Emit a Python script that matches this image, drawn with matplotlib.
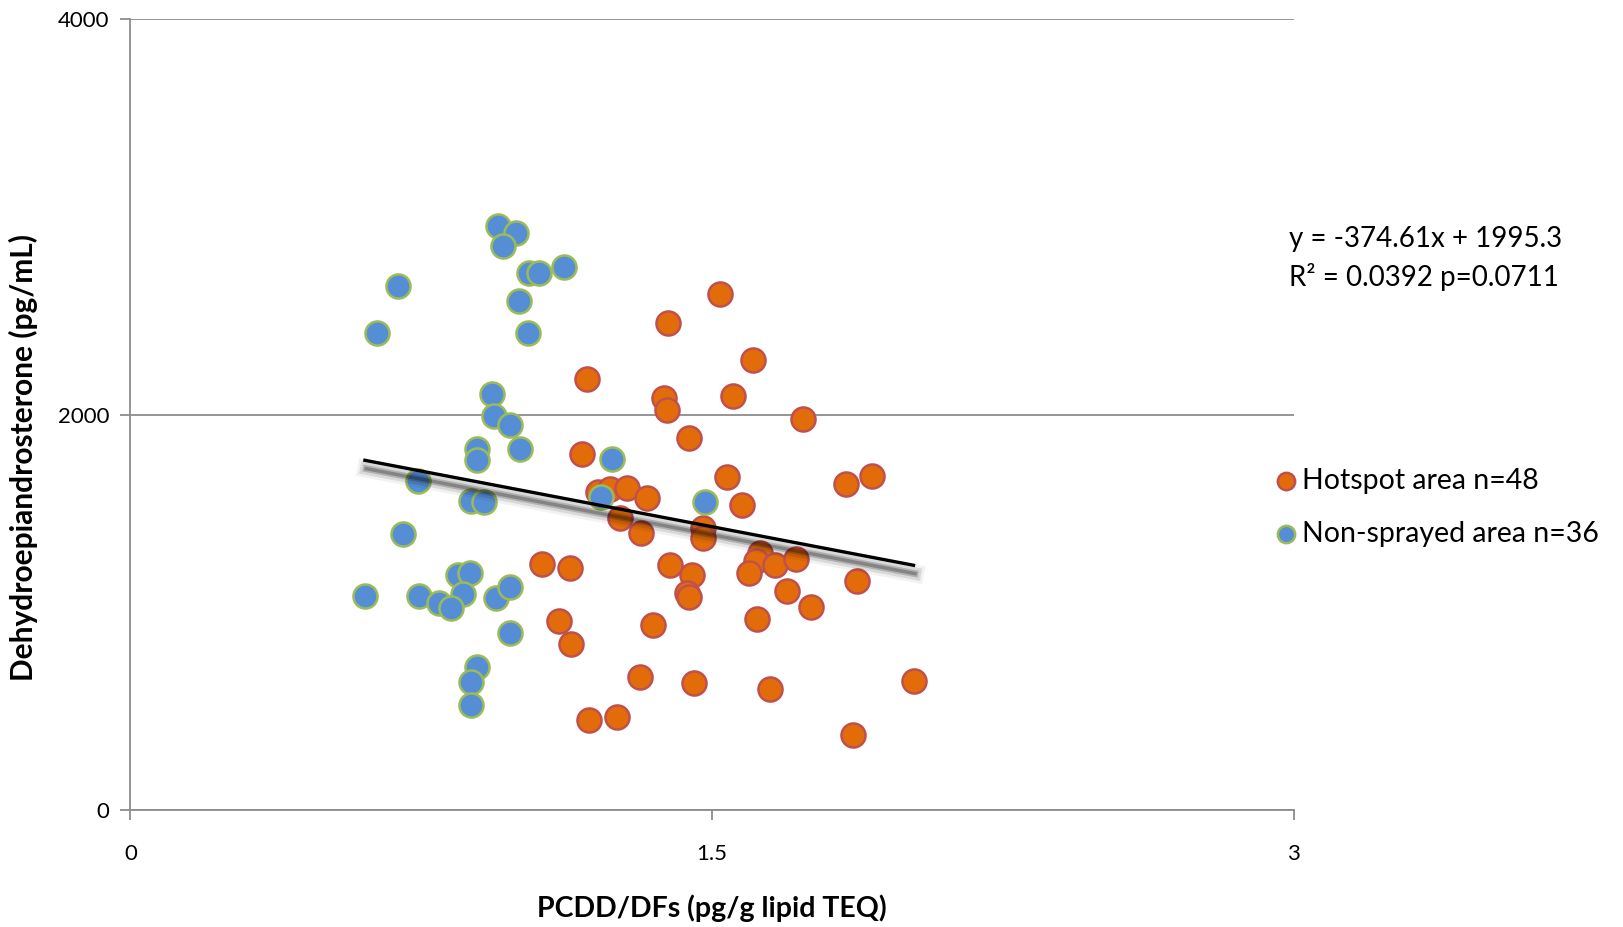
import numpy as np
import matplotlib
matplotlib.use("Agg")
import matplotlib.pyplot as plt
import matplotlib.patheffects as pe

plt.rcParams['font.family'] = ['Lato', 'DejaVu Sans']

# Hotspot area (orange)
hot_x = [1.522, 1.387, 1.607, 1.179, 1.376, 1.384, 1.554, 1.736, 1.440, 1.165,
         1.538, 1.846, 1.913, 1.207, 1.236, 1.282, 1.332, 1.577, 1.262, 1.317,
         1.478, 1.477, 1.061, 1.133, 1.391, 1.449, 1.625, 1.614, 1.595, 1.663,
         1.716, 1.436, 1.442, 1.873, 1.693, 1.756, 1.106, 1.348, 1.616, 1.137,
         1.315, 1.453, 1.651, 1.184, 1.256, 1.864, 2.020]
hot_y = [2607, 2464, 2277, 2179, 2085, 2023, 2093, 1977, 1883, 1799,
         1684, 1647, 1689, 1610, 1622, 1627, 1577, 1543, 1476, 1403,
         1425, 1375, 1243, 1223, 1241, 1189, 1299, 1262, 1201, 1240,
         1269, 1100, 1077, 1161, 1109, 1029, 959, 937, 969, 839,
         676, 642, 612, 457, 471, 381, 656]

# Non-sprayed area (blue)
non_x = [0.949, 0.995, 0.961, 1.029, 1.055, 1.119, 0.691, 1.002, 0.636, 1.025,
         0.932, 0.938, 0.978, 1.005, 0.895, 0.894, 1.242, 0.742, 0.878, 0.913,
         1.214, 0.702, 0.845, 0.876, 0.859, 0.744, 0.797, 0.827, 0.605, 0.943,
         0.980, 0.980, 0.894, 0.879, 0.879, 1.483]
non_y = [2952, 2915, 2853, 2713, 2713, 2746, 2649, 2573, 2413, 2413,
         2102, 1994, 1945, 1824, 1824, 1770, 1777, 1666, 1563, 1557,
         1582, 1396, 1189, 1201, 1092, 1085, 1049, 1024, 1083, 1072,
         1130, 895, 726, 647, 533, 1558]

slope, intercept = -374.61, 1995.3
eq_text = "y = -374.61x + 1995.3\nR\u00b2 = 0.0392 p=0.0711"

fig = plt.figure(figsize=(16.23, 9.27), dpi=100)
ax = fig.add_axes([0.0803, 0.1257, 0.7167, 0.8543])

grid_col = "#8c8c8c"
ax.scatter(hot_x, hot_y, s=300, c="#E36C0A", edgecolors="#C0504D",
           linewidths=1.8, zorder=3, label="Hotspot area n=48")
ax.scatter(non_x, non_y, s=300, c="#558ED5", edgecolors="#9BBB59",
           linewidths=1.8, zorder=3, label="Non-sprayed area n=36")

# trend line with soft shadow
all_x = np.array(hot_x + non_x)
lx = np.array([all_x.min(), all_x.max()])
ax.plot(lx, slope * lx + intercept, color="black", lw=2.4, zorder=5,
        path_effects=[pe.SimpleLineShadow(offset=(1, -6), shadow_color="black", alpha=0.05, linewidth=13),
                      pe.SimpleLineShadow(offset=(1, -6), shadow_color="black", alpha=0.10, linewidth=9),
                      pe.SimpleLineShadow(offset=(1, -6), shadow_color="black", alpha=0.18, linewidth=5),
                      pe.SimpleLineShadow(offset=(1, -6), shadow_color="black", alpha=0.25, linewidth=2.5),
                      pe.Normal()])

ax.set_xlim(0, 3)
ax.set_ylim(0, 4000)
ax.set_xticks([0, 1.5, 3])
ax.set_xticklabels(["0", "1.5", "3"])
ax.set_yticks([0, 2000, 4000])
ax.yaxis.grid(True, color=grid_col, lw=1.3)
ax.set_axisbelow(True)
for s in ["top", "right"]:
    ax.spines[s].set_visible(False)
for s in ["left", "bottom"]:
    ax.spines[s].set_color(grid_col)
    ax.spines[s].set_linewidth(1.3)
ax.tick_params(axis="both", colors=grid_col, length=7, width=1.3, labelsize=16,
               labelcolor="black")
ax.tick_params(axis="x", pad=17)
ax.tick_params(axis="y", pad=8)

ax.set_xlabel("PCDD/DFs (pg/g lipid TEQ)", fontsize=20.5, fontweight="bold", labelpad=22)
ax.set_ylabel("Dehydroepiandrosterone (pg/mL)", fontsize=21.5, fontweight="bold")
ax.yaxis.set_label_coords(-0.079, 0.446)

fig.text(0.794, 0.756, eq_text, fontsize=20, va="top", ha="left", linespacing=1.45)

ax.legend(loc="center left", bbox_to_anchor=(0.7765, 0.453), bbox_transform=fig.transFigure,
          frameon=False, fontsize=20.5, markerscale=0.72, handletextpad=0.05,
          handlelength=1.0, labelspacing=0.95, borderaxespad=0)

fig.savefig("out.png", dpi=100)
